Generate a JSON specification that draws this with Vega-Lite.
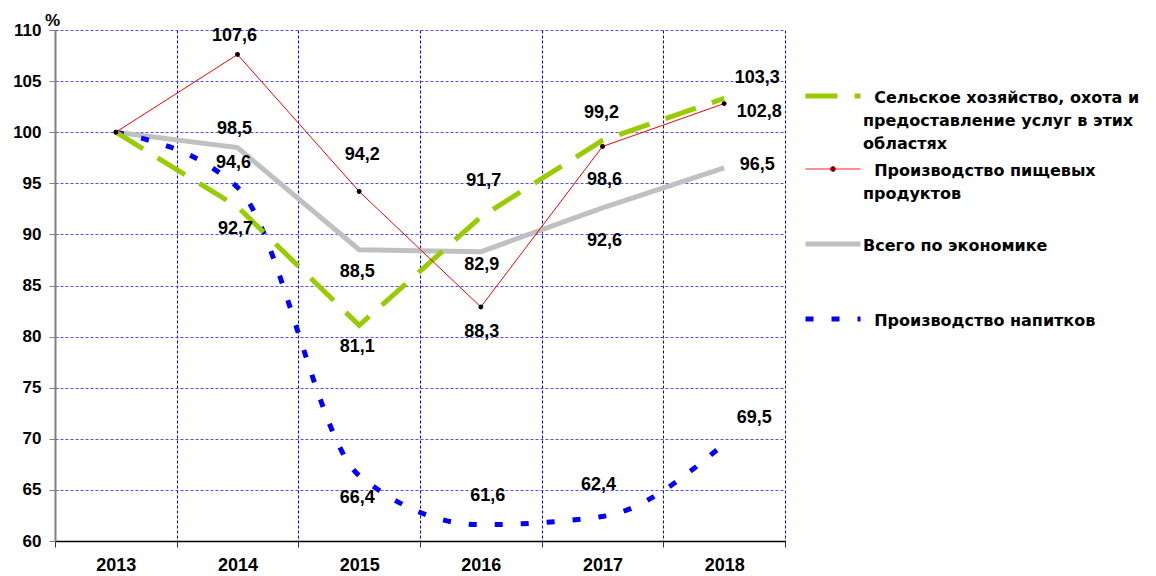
{
  "$schema": "https://vega.github.io/schema/vega-lite/v6.json",
  "width": 730,
  "height": 511,
  "autosize": {"type": "none"},
  "padding": {"left": 55, "top": 30, "right": 371, "bottom": 35},
  "background": "white",
  "config": {
    "view": {"stroke": null},
    "locale": {"number": {"decimal": ",", "thousands": " ", "grouping": [3], "currency": ["", ""]}},
    "text": {"font": "Liberation Sans", "fontSize": 18, "fontWeight": "bold", "color": "black"},
    "axis": {"labelFont": "Liberation Sans", "labelFontWeight": "bold", "labelColor": "black", "titleFont": "Liberation Sans"}
  },
  "data": {
    "values": [
      {"year": "2013", "series": "Сельское хозяйство, охота и предоставление услуг в этих областях", "value": 100},
      {"year": "2014", "series": "Сельское хозяйство, охота и предоставление услуг в этих областях", "value": 92.7},
      {"year": "2015", "series": "Сельское хозяйство, охота и предоставление услуг в этих областях", "value": 81.1},
      {"year": "2016", "series": "Сельское хозяйство, охота и предоставление услуг в этих областях", "value": 91.7},
      {"year": "2017", "series": "Сельское хозяйство, охота и предоставление услуг в этих областях", "value": 99.2},
      {"year": "2018", "series": "Сельское хозяйство, охота и предоставление услуг в этих областях", "value": 103.3},
      {"year": "2013", "series": "Производство пищевых продуктов", "value": 100},
      {"year": "2014", "series": "Производство пищевых продуктов", "value": 107.6},
      {"year": "2015", "series": "Производство пищевых продуктов", "value": 94.2},
      {"year": "2016", "series": "Производство пищевых продуктов", "value": 82.9},
      {"year": "2017", "series": "Производство пищевых продуктов", "value": 98.6},
      {"year": "2018", "series": "Производство пищевых продуктов", "value": 102.8},
      {"year": "2013", "series": "Всего по экономике", "value": 100},
      {"year": "2014", "series": "Всего по экономике", "value": 98.5},
      {"year": "2015", "series": "Всего по экономике", "value": 88.5},
      {"year": "2016", "series": "Всего по экономике", "value": 88.3},
      {"year": "2017", "series": "Всего по экономике", "value": 92.6},
      {"year": "2018", "series": "Всего по экономике", "value": 96.5},
      {"year": "2013", "series": "Производство напитков", "value": 100},
      {"year": "2014", "series": "Производство напитков", "value": 94.6},
      {"year": "2015", "series": "Производство напитков", "value": 66.4},
      {"year": "2016", "series": "Производство напитков", "value": 61.6},
      {"year": "2017", "series": "Производство напитков", "value": 62.4},
      {"year": "2018", "series": "Производство напитков", "value": 69.5}
    ]
  },
  "encoding": {
    "x": {
      "field": "year", "type": "ordinal",
      "scale": {"type": "band", "paddingInner": 0, "paddingOuter": 0},
      "axis": {
        "title": null, "labelAngle": 0, "labelFontSize": 18, "labelPadding": 9,
        "tickBand": "extent", "grid": true, "gridColor": "#0000ff", "gridDash": [3, 2], "gridWidth": 1,
        "domainColor": "black", "domainWidth": 1.5, "tickColor": "#333333", "tickSize": 6
      }
    },
    "y": {
      "field": "value", "type": "quantitative",
      "scale": {"domain": [60, 110], "nice": false, "zero": false},
      "axis": {
        "values": [60, 65, 70, 75, 80, 85, 90, 95, 100, 105, 110], "format": "d",
        "labelFontSize": 17, "labelPadding": 8,
        "grid": true, "gridColor": "#5050ff", "gridDash": [3, 2],
        "domainColor": "#808080", "domainWidth": 2, "tickColor": "#808080", "tickSize": 6,
        "title": "%", "titleAngle": 0, "titleX": -3, "titleY": -10, "titleAlign": "center", "titleBaseline": "middle",
        "titleFontSize": 17, "titleFontWeight": "bold", "titleColor": "black"
      }
    },
    "color": {
      "field": "series", "type": "nominal",
      "scale": {
        "domain": ["Сельское хозяйство, охота и предоставление услуг в этих областях", "Производство пищевых продуктов", "Всего по экономике", "Производство напитков"],
        "range": ["#99cc00", "#ff0000", "#c0c0c0", "#0000ff"]
      },
      "legend": {
        "title": null, "orient": "none", "legendX": 770, "legendY": 58,
        "symbolSize": 3025, "padding": 0, "rowPadding": 9,
        "labelFont": "DejaVu Sans", "labelFontSize": 16, "labelFontWeight": "bold", "labelColor": "black",
        "labelLimit": 400, "labelOffset": 22, "labelBaseline": "top",
        "labelExpr": "datum.label == 'Сельское хозяйство, охота и предоставление услуг в этих областях' ? ['\u200b\u00a0\u00a0Сельское хозяйство, охота и', 'предоставление услуг в этих', 'областях'] : datum.label == 'Производство пищевых продуктов' ? ['\u200b\u00a0\u00a0Производство пищевых', 'продуктов', ''] : datum.label == 'Всего по экономике' ? ['Всего по экономике', '', ''] : ['\u200b\u00a0\u00a0Производство напитков', '', '']",
        "encode": {
          "symbols": {
            "update": {
              "shape": {"signal": "datum.value == 'Производство пищевых продуктов' ? 'M-1,0H1M-0.09,0A0.09,0.09,0,1,1,0.09,0A0.09,0.09,0,1,1,-0.09,0Z' : 'M-1,0H1'"},
              "strokeWidth": {"signal": "datum.value == 'Производство пищевых продуктов' ? 1 : 5"},
              "strokeDash": {"signal": "datum.value == 'Производство напитков' ? [8, 18] : datum.value == 'Производство пищевых продуктов' || datum.value == 'Всего по экономике' ? [1, 0] : [32, 17]"},
              "fill": {"signal": "datum.value == 'Производство пищевых продуктов' ? 'black' : 'transparent'"},
              "opacity": {"value": 1}
            }
          },
          "labels": {"update": {"lineHeight": {"value": 23}, "dy": {"value": -6}}}
        }
      }
    }
  },
  "layer": [
    {"transform": [{"filter": "datum.series == 'Всего по экономике'"}], "mark": {"type": "line", "strokeWidth": 5}},
    {"transform": [{"filter": "datum.series == 'Производство напитков'"}], "mark": {"type": "line", "strokeWidth": 5, "strokeDash": [8, 18], "interpolate": "monotone"}},
    {"transform": [{"filter": "datum.series == 'Сельское хозяйство, охота и предоставление услуг в этих областях'"}], "mark": {"type": "line", "strokeWidth": 5, "strokeDash": [32, 17]}},
    {"transform": [{"filter": "datum.series == 'Производство пищевых продуктов'"}], "mark": {"type": "line", "strokeWidth": 1}},
    {"transform": [{"filter": "datum.series == 'Производство пищевых продуктов'"}], "mark": {"type": "point", "filled": true, "size": 24, "opacity": 1}, "encoding": {"color": {"value": "black"}}},
    {"transform": [{"filter": {"field": "value", "oneOf": [107.6, 98.5]}}], "mark": {"type": "text", "dx": -3, "dy": -19}, "encoding": {"text": {"field": "value", "type": "quantitative", "format": ".1f"}, "color": {"value": "black"}}},
    {"transform": [{"filter": {"field": "value", "oneOf": [94.6]}}], "mark": {"type": "text", "dx": -4, "dy": -24}, "encoding": {"text": {"field": "value", "type": "quantitative", "format": ".1f"}, "color": {"value": "black"}}},
    {"transform": [{"filter": {"field": "value", "oneOf": [92.7, 88.5, 81.1, 66.4]}}], "mark": {"type": "text", "dx": -2, "dy": 22}, "encoding": {"text": {"field": "value", "type": "quantitative", "format": ".1f"}, "color": {"value": "black"}}},
    {"transform": [{"filter": {"field": "value", "oneOf": [94.2, 91.7]}}], "mark": {"type": "text", "dx": 3, "dy": -36}, "encoding": {"text": {"field": "value", "type": "quantitative", "format": ".1f"}, "color": {"value": "black"}}},
    {"transform": [{"filter": {"field": "value", "oneOf": [82.9]}}], "mark": {"type": "text", "dx": 1, "dy": -42}, "encoding": {"text": {"field": "value", "type": "quantitative", "format": ".1f"}, "color": {"value": "black"}}},
    {"transform": [{"filter": {"field": "value", "oneOf": [88.3]}}], "mark": {"type": "text", "dx": 1, "dy": 80}, "encoding": {"text": {"field": "value", "type": "quantitative", "format": ".1f"}, "color": {"value": "black"}}},
    {"transform": [{"filter": {"field": "value", "oneOf": [61.6]}}], "mark": {"type": "text", "dx": 7, "dy": -29}, "encoding": {"text": {"field": "value", "type": "quantitative", "format": ".1f"}, "color": {"value": "black"}}},
    {"transform": [{"filter": {"field": "value", "oneOf": [99.2]}}], "mark": {"type": "text", "dx": -1, "dy": -27}, "encoding": {"text": {"field": "value", "type": "quantitative", "format": ".1f"}, "color": {"value": "black"}}},
    {"transform": [{"filter": {"field": "value", "oneOf": [98.6, 92.6]}}], "mark": {"type": "text", "dx": 2, "dy": 33}, "encoding": {"text": {"field": "value", "type": "quantitative", "format": ".1f"}, "color": {"value": "black"}}},
    {"transform": [{"filter": {"field": "value", "oneOf": [62.4]}}], "mark": {"type": "text", "dx": -4, "dy": -31}, "encoding": {"text": {"field": "value", "type": "quantitative", "format": ".1f"}, "color": {"value": "black"}}},
    {"transform": [{"filter": {"field": "value", "oneOf": [103.3]}}], "mark": {"type": "text", "dx": 33, "dy": -20}, "encoding": {"text": {"field": "value", "type": "quantitative", "format": ".1f"}, "color": {"value": "black"}}},
    {"transform": [{"filter": {"field": "value", "oneOf": [102.8]}}], "mark": {"type": "text", "dx": 35, "dy": 8}, "encoding": {"text": {"field": "value", "type": "quantitative", "format": ".1f"}, "color": {"value": "black"}}},
    {"transform": [{"filter": {"field": "value", "oneOf": [96.5]}}], "mark": {"type": "text", "dx": 33, "dy": -3}, "encoding": {"text": {"field": "value", "type": "quantitative", "format": ".1f"}, "color": {"value": "black"}}},
    {"transform": [{"filter": {"field": "value", "oneOf": [69.5]}}], "mark": {"type": "text", "dx": 30, "dy": -26}, "encoding": {"text": {"field": "value", "type": "quantitative", "format": ".1f"}, "color": {"value": "black"}}}
  ]
}
